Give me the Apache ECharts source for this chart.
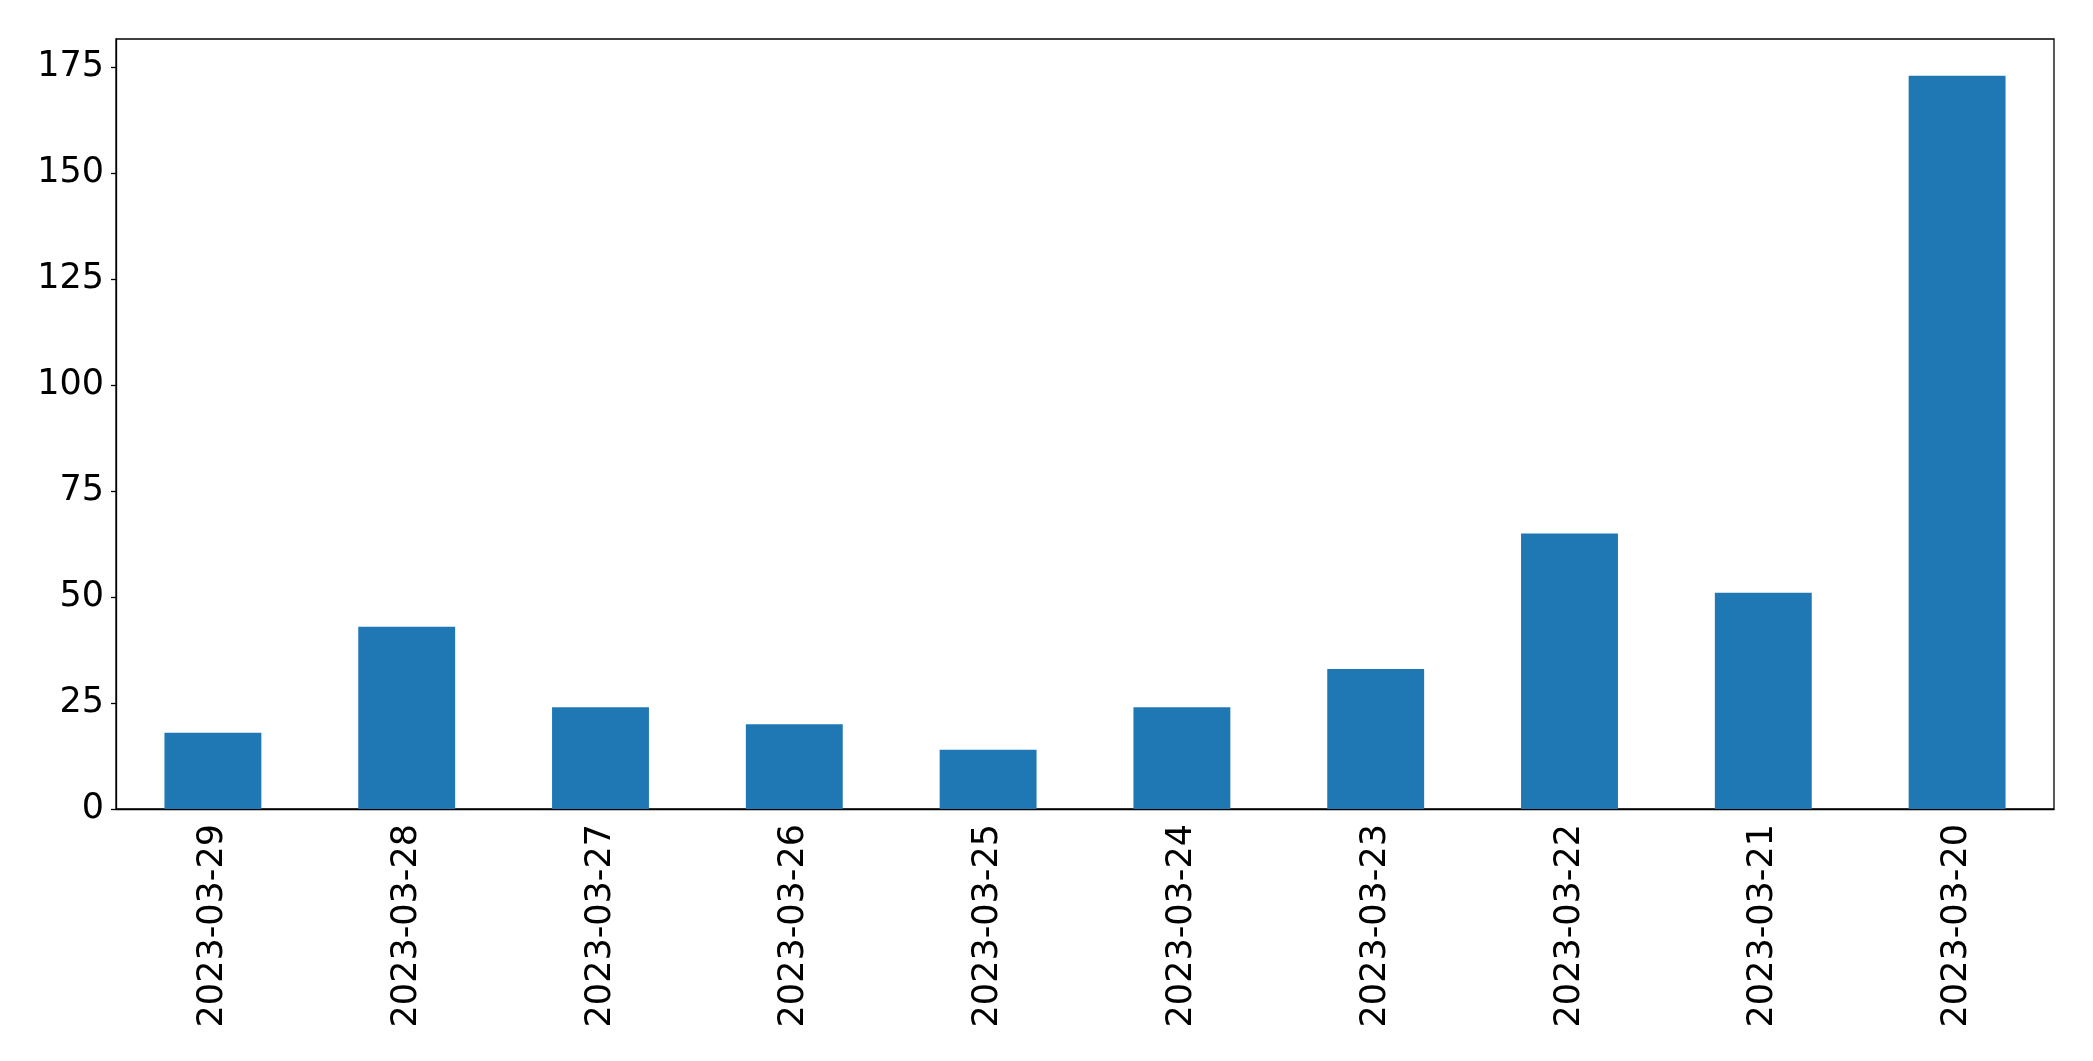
<!DOCTYPE html>
<html>
<head>
<meta charset="utf-8">
<script src="https://cdn.jsdelivr.net/npm/echarts@6/dist/echarts.min.js"></script>
<style>html,body{margin:0;padding:0;background:#fff}#c{width:2093px;height:1061px}</style>
</head>
<body>
<div id="c"></div>
<script>
const categories = ["2023-03-29","2023-03-28","2023-03-27","2023-03-26","2023-03-25","2023-03-24","2023-03-23","2023-03-22","2023-03-21","2023-03-20"];
const values = [18, 43, 24, 20, 14, 24, 33, 65, 51, 173];
const yMax = 181.65;

const chart = echarts.init(document.getElementById('c'), null, {renderer: 'canvas'});
const font = {fontFamily: 'DejaVu Sans', fontSize: 35, color: '#000'};
chart.setOption({
  animation: false,
  grid: {left: 116, right: 39, top: 39, bottom: 252, show: true, borderColor: '#000', borderWidth: 1.3, containLabel: false},
  xAxis: {
    type: 'category', data: categories, boundaryGap: true,
    axisLine: {lineStyle: {color: '#000', width: 1.3}},
    axisTick: {alignWithLabel: true, length: 5, lineStyle: {color: '#000', width: 1.3}},
    axisLabel: Object.assign({rotate: 90, margin: 15, interval: 0}, font),
    splitLine: {show: false}
  },
  yAxis: {
    type: 'value', min: 0, max: yMax, interval: 25,
    axisLine: {show: true, lineStyle: {color: '#000', width: 1.3}},
    axisTick: {show: true, length: 5, lineStyle: {color: '#000', width: 1.3}},
    axisLabel: Object.assign({margin: 12, padding: [9, 0, 0, 0], backgroundColor: 'rgba(255,255,255,0)', showMaxLabel: false, formatter: v => (v % 25 === 0 ? String(v) : '')}, font),
    splitLine: {show: false}
  },
  series: [{type: 'bar', data: values, barWidth: '50%', itemStyle: {color: '#1f77b4'}}]
});
</script>
</body>
</html>
